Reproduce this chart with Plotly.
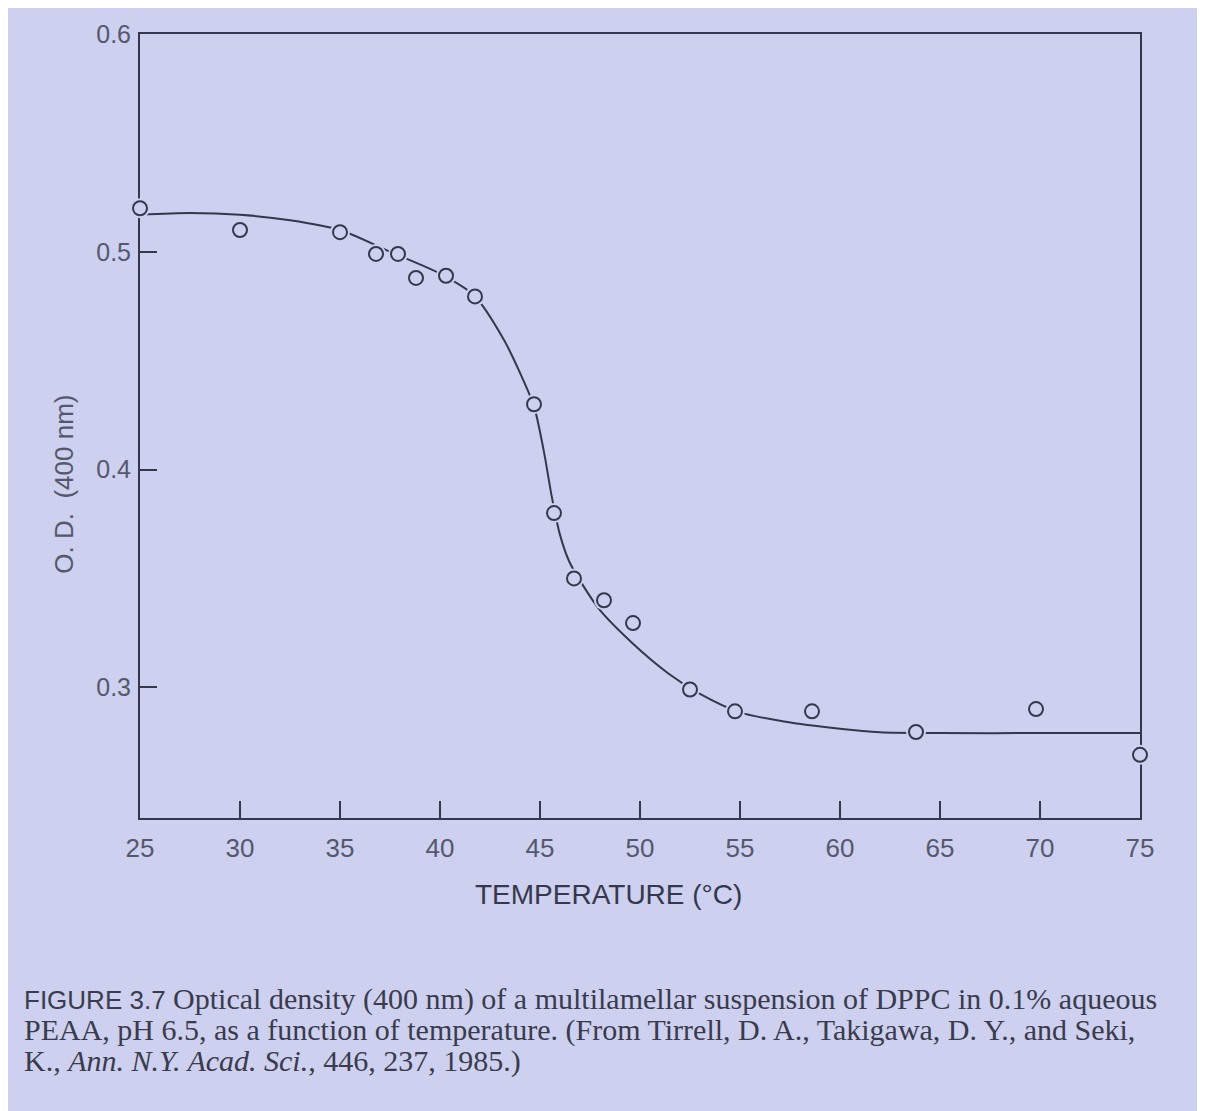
import plotly.graph_objects as go

# ---- data ----
temp_pts = [25, 30, 35, 36.8, 37.9, 38.8, 40.3, 41.75, 44.7, 45.7, 46.7, 48.2,
            49.65, 52.5, 54.75, 58.6, 63.8, 69.8, 75]
od_pts = [0.520, 0.510, 0.509, 0.499, 0.499, 0.488, 0.489, 0.4795, 0.430, 0.380,
          0.350, 0.340, 0.3295, 0.299, 0.289, 0.289, 0.2795, 0.290, 0.269]

curve_temp = [25, 27.5, 30, 32.5, 35, 37.5, 40, 41.7, 43.2, 44.0, 44.7, 45.2, 45.6,
              46.0, 46.45, 47.0, 48.0, 49.65, 51.4, 53, 55, 57.2, 60, 62, 65, 70, 75]
curve_od = [0.517, 0.5178, 0.517, 0.5145, 0.510, 0.500, 0.490, 0.480, 0.4595, 0.4444,
            0.429, 0.408, 0.387, 0.370, 0.358, 0.349, 0.3354, 0.320, 0.3065, 0.297,
            0.2885, 0.2843, 0.281, 0.2794, 0.279, 0.279, 0.279]

x_ticks = [25, 30, 35, 40, 45, 50, 55, 60, 65, 70, 75]
y_ticks = [0.3, 0.4, 0.5, 0.6]

BG = "#cdd0ef"
INK = "#35384c"
LABEL = "#55586c"

OFF = 8  # page body margin
W, H = 1205 - OFF, 1111 - OFF
L, R, T, B = 140 - OFF, 1140 - OFF, 30 - OFF, 818 - OFF


def px(xp):
    return (xp - OFF - L) / (R - L)


def py(yp):
    return (B - (yp - OFF)) / (B - T)


fig = go.Figure()
fig.add_trace(go.Scatter(x=curve_temp, y=curve_od, mode="lines",
                         line=dict(color=INK, width=2, shape="spline", smoothing=0.8),
                         hoverinfo="skip", showlegend=False, cliponaxis=False))
# background halo to break the line around the circles
fig.add_trace(go.Scatter(x=temp_pts, y=od_pts, mode="markers",
                         marker=dict(symbol="circle", size=20, color=BG, line=dict(width=0)),
                         hoverinfo="skip", showlegend=False, cliponaxis=False))
fig.add_trace(go.Scatter(x=temp_pts, y=od_pts, mode="markers",
                         marker=dict(symbol="circle-open", size=14, color=INK,
                                     line=dict(width=2, color=INK)),
                         showlegend=False, cliponaxis=False))

fig.update_xaxes(range=[25, 75], tickvals=x_ticks, ticktext=[str(v) for v in x_ticks],
                 ticks="inside", ticklen=17, tickwidth=2, tickcolor=INK,
                 showline=True, linewidth=2, linecolor=INK, mirror=True,
                 showgrid=False, zeroline=False, layer="below traces",
                 ticklabelstandoff=6,
                 tickfont=dict(family="Liberation Sans", size=26, color=LABEL))
fig.update_yaxes(range=[0.24, 0.6], tickvals=y_ticks, ticktext=["0.3", "0.4", "0.5", "0.6"],
                 ticks="inside", ticklen=17, tickwidth=2, tickcolor=INK,
                 showline=True, linewidth=2, linecolor=INK, mirror=True,
                 showgrid=False, zeroline=False, layer="below traces",
                 ticklabelstandoff=2,
                 tickfont=dict(family="Liberation Sans", size=25, color=LABEL))

annots = []
annots.append(dict(text="TEMPERATURE (°C)", x=px(608), y=py(895), xref="paper", yref="paper",
                   showarrow=False, xanchor="center", yanchor="middle",
                   font=dict(family="Liberation Sans", size=28, color=INK)))
annots.append(dict(text="O. D.  (400 nm)", x=px(64), y=py(483), xref="paper", yref="paper",
                   showarrow=False, xanchor="center", yanchor="middle", textangle=-90,
                   font=dict(family="Liberation Sans", size=26, color=LABEL)))

cap_font = dict(family="Liberation Serif", size=30, color="#3a3b4c")
lines = [
    '<span style="font-family:Liberation Sans;font-size:26px">FIGURE 3.7</span> '
    'Optical density (400 nm) of a multilamellar suspension of DPPC in 0.1% aqueous',
    'PEAA, pH 6.5, as a function of temperature. (From Tirrell, D. A., Takigawa, D. Y., and Seki,',
    'K., <i>Ann. N.Y. Acad. Sci.</i>, 446, 237, 1985.)',
]
for i, t in enumerate(lines):
    annots.append(dict(text=t, x=px(22), y=py(1000 + 31 * i), xref="paper", yref="paper",
                       showarrow=False, xanchor="left", yanchor="middle", font=cap_font))

fig.update_layout(width=W, height=H, margin=dict(l=L, r=W - R, t=T, b=H - B),
                  paper_bgcolor=BG, plot_bgcolor=BG, annotations=annots,
                  showlegend=False)

fig.write_html("out.html")
